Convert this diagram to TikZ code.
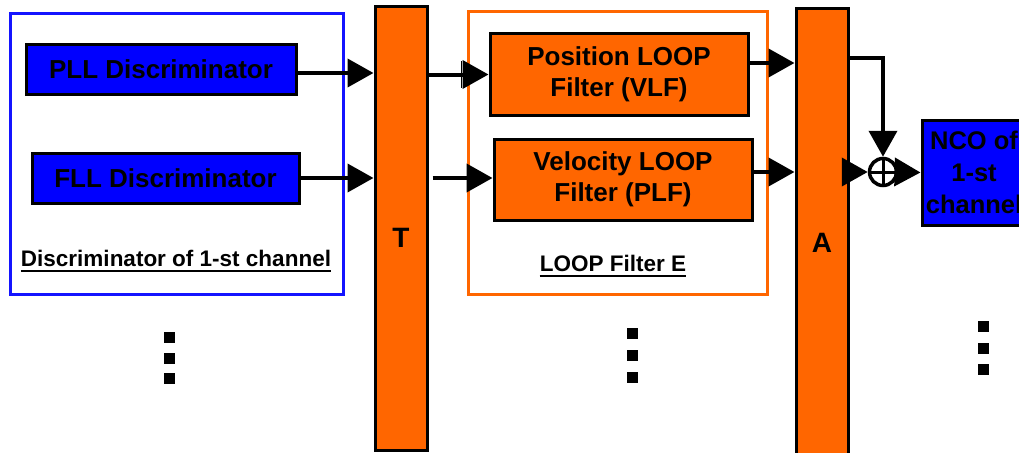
\documentclass[tikz,border=0pt]{standalone}
\usepackage{fontspec}
\setmainfont{Liberation Sans}
\usetikzlibrary{arrows.meta,calc}
\definecolor{blk}{RGB}{0,0,255}
\definecolor{org}{RGB}{255,102,0}
\definecolor{frameblue}{RGB}{20,20,255}
\tikzset{
  bluebox/.style={draw=black,line width=3pt,fill=blk,inner sep=0pt,align=center,
    font=\fontsize{26}{31}\selectfont\bfseries},
  orangebox/.style={draw=black,line width=3pt,fill=org,inner sep=0pt,align=center,
    font=\fontsize{26}{31}\selectfont\bfseries},
  bar/.style={draw=black,line width=3pt,fill=org,inner sep=0pt},
  barlabel/.style={font=\fontsize{28}{30}\selectfont\bfseries},
  grouplabel/.style={inner sep=0pt,font=\fontsize{22.5}{24}\selectfont\bfseries},
  conn/.style={line width=4pt,-{Triangle[length=26pt,width=28pt]}},
  dotsq/.style={fill=black},
}
\begin{document}
\begin{tikzpicture}[x=1pt,y=-1pt]
\useasboundingbox (0,0) rectangle (1019,452);
\clip (0,0) rectangle (1019,452);

% discriminator group
\draw[frameblue,line width=3pt] (10,14) rectangle (343,294);
\node[bluebox,minimum width=270pt,minimum height=49pt] (PLL) at (161,69.5) {PLL Discriminator};
\node[bluebox,minimum width=267pt,minimum height=50pt] (FLL) at (165.5,178) {FLL Discriminator};
\node[grouplabel] (dl) at (176,258) {Discriminator of 1-st channel};
\draw[line width=2.5pt] ([yshift=-5pt]dl.base west) -- ([yshift=-5pt]dl.base east);

% T bar
\node[bar,minimum width=52pt,minimum height=443pt] (T) at (401,228.5) {};
\node[barlabel] (Tl) at (401,238) {T};

% loop filter group
\draw[org,line width=3pt] (468,12) rectangle (767,294);
\node[orangebox,minimum width=258pt,minimum height=81pt] (Pos) at (619,74.5) {Position LOOP\\Filter (VLF)};
\node[orangebox,minimum width=258pt,minimum height=81pt] (Vel) at (623,179.5) {Velocity LOOP\\Filter (PLF)};
\node[grouplabel] (ll) at (613,263) {LOOP Filter E};
\draw[line width=2.5pt] ([yshift=-5pt]ll.base west) -- ([yshift=-5pt]ll.base east);

% A bar
\node[bar,minimum width=52pt,minimum height=450pt] (A) at (822,234) {};
\node[barlabel] (Al) at (822,243) {A};

% adder and NCO
\node[circle,draw=black,line width=3.5pt,fill=white,minimum size=27pt,inner sep=0pt] (sum) at (883,172) {};
\draw[line width=3pt] (sum.north) -- (sum.south) (sum.west) -- (sum.east);
\node[bluebox,minimum width=104pt,minimum height=105pt,
  font=\fontsize{25.5}{32}\selectfont\bfseries] (NCO) at (974,172.5) {NCO of\\1-st\\channel};

% connectors
\draw[conn] ($(PLL.east)+(0,3.5)$) coordinate (p0) -- (p0 -| T.west);
\draw[conn] (FLL.east) -- (FLL.east -| T.west);
\draw[conn] (Pos.west -| T.east) -- (Pos.west);
\draw[line width=1.2pt] ($(Pos.west)+(-27,-13)$) coordinate (tk) -- ++(0,26);
\coordinate (tv) at ($(Vel.west -| T.east)+(4,-1.5)$);
\draw[conn] (tv) -- (tv -| Vel.west);
\draw[conn] ($(Pos.east)+(0,-11.5)$) coordinate (p1) -- (p1 -| A.west);
\draw[conn] ($(Vel.east)+(0,-7.5)$) coordinate (p2) -- (p2 -| A.west);
\draw[conn] ($(A.north east)+(0,51)$) -| (sum.north);
\draw[conn] (sum.west -| A.east) -- (sum.west);
\draw[conn] (sum.east) -- (NCO.west);

% continuation marks
\foreach \x/\y in {164/332,164/353,164/373, 627/328,627/350,627/372, 978/321,978/343,978/364}
  \fill[dotsq] (\x,\y) rectangle ++(11,11);
\end{tikzpicture}
\end{document}
